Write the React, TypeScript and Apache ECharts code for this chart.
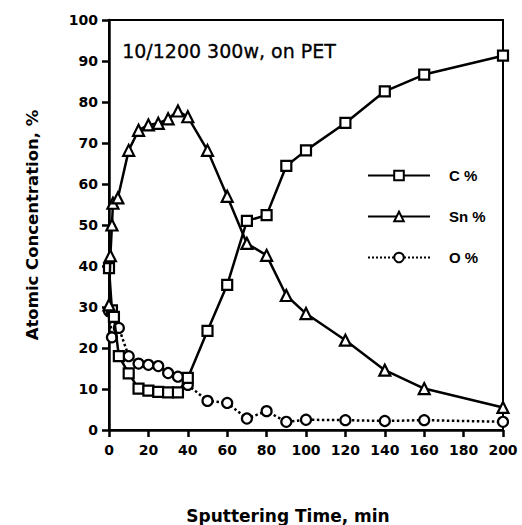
import React, { useEffect, useRef } from "react";
import * as echarts from "echarts";

const cTimes = [0, 1.5, 2.5, 5, 10, 15, 20, 25, 30, 35, 40, 50, 60, 70, 80, 90, 100, 120, 140, 160, 200];
const cValues = [39.5, 29.2, 27.6, 18, 13.8, 10.1, 9.6, 9.3, 9.2, 9.2, 12.7, 24.2, 35.4, 51, 52.4, 64.4, 68.2, 74.9, 82.6, 86.7, 91.3];

const snTimes = [0, 0.7, 1.5, 2, 4.5, 10, 15, 20, 25, 30, 35, 40, 50, 60, 70, 80, 90, 100, 120, 140, 160, 200];
const snValues = [30.5, 42.5, 50, 55.3, 56.6, 68.2, 73.1, 74.4, 74.8, 75.9, 77.8, 76.4, 68.2, 57, 45.5, 42.6, 32.8, 28.4, 21.9, 14.6, 10.1, 5.5];

const oTimes = [0, 1.5, 5, 10, 15, 20, 25, 30, 35, 40, 50, 60, 70, 80, 90, 100, 120, 140, 160, 200];
const oValues = [29, 22.6, 24.9, 18, 16.2, 15.9, 15.6, 13.9, 13, 11, 7.1, 6.6, 2.8, 4.6, 2.0, 2.5, 2.4, 2.2, 2.4, 2.0];

const xTicks = { min: 0, max: 200, interval: 20 };
const yTicks = { min: 0, max: 100, interval: 10 };

const seriesNames = ["C %", "Sn %", "O %"];
const titleText = "10/1200 300w, on PET";
const xName = "Sputtering Time, min";
const yName = "Atomic Concentration, %";

const pairs = (xs: number[], ys: number[]) => xs.map((x, i) => [x, ys[i]]);

export default function App() {
  const ref = useRef<HTMLDivElement>(null);
  useEffect(() => {
    if (!ref.current) return;
    const chart = echarts.init(ref.current, null, { renderer: "svg" });
    const tickFont = { fontFamily: "DejaVu Sans", fontWeight: "bold" as const, fontSize: 14, color: "#000" };
    const markerStyle = { color: "#fff", borderColor: "#000", borderWidth: 2.2 };
    chart.setOption({
      animation: false,
      backgroundColor: "#fff",
      grid: {
        left: 109,
        right: 19,
        top: 20,
        bottom: 95,
        containLabel: false,
        outerBoundsMode: "none",
        show: true,
        borderColor: "#000",
        borderWidth: 2,
      },
      graphic: [
        {
          type: "text",
          left: 122,
          top: 41,
          style: {
            text: titleText,
            font: "19px 'DejaVu Sans'",
            fill: "#000",
            stroke: "#000",
            lineWidth: 0.3,
          },
        },
      ],
      legend: {
        orient: "vertical",
        left: 362,
        top: 163,
        itemWidth: 62,
        itemHeight: 12,
        itemGap: 26,
        data: seriesNames,
        textStyle: {
          fontFamily: "Liberation Sans",
          fontWeight: "bold",
          fontSize: 15,
          color: "#000",
          padding: [0, 0, 0, 14],
        },
      },
      xAxis: {
        type: "value",
        min: xTicks.min,
        max: xTicks.max,
        interval: xTicks.interval,
        name: xName,
        nameLocation: "middle",
        nameGap: 77,
        nameTextStyle: {
          fontFamily: "DejaVu Sans",
          fontWeight: "bold",
          fontSize: 17,
          color: "#000",
          padding: [0, 36, 0, 0],
        },
        axisLine: { show: true, lineStyle: { color: "#000", width: 2.5 } },
        axisTick: { show: true, inside: false, length: 7, lineStyle: { color: "#000", width: 2.5 } },
        axisLabel: { ...tickFont, margin: 13 },
        splitLine: { show: false },
      },
      yAxis: {
        type: "value",
        min: yTicks.min,
        max: yTicks.max,
        interval: yTicks.interval,
        name: yName,
        nameLocation: "middle",
        nameGap: 68,
        nameTextStyle: {
          fontFamily: "DejaVu Sans",
          fontWeight: "bold",
          fontSize: 16.5,
          color: "#000",
        },
        axisLine: { show: true, lineStyle: { color: "#000", width: 2.5 } },
        axisTick: { show: true, inside: false, length: 7, lineStyle: { color: "#000", width: 2.5 } },
        axisLabel: { ...tickFont, margin: 11 },
        splitLine: { show: false },
      },
      series: [
        {
          name: seriesNames[0],
          type: "line",
          data: pairs(cTimes, cValues),
          symbol: "rect",
          symbolSize: 10,
          lineStyle: { color: "#000", width: 2.5 },
          itemStyle: markerStyle,
          z: 3,
        },
        {
          name: seriesNames[1],
          type: "line",
          data: pairs(snTimes, snValues),
          symbol: "triangle",
          symbolSize: 11,
          lineStyle: { color: "#000", width: 2.5 },
          itemStyle: markerStyle,
          z: 4,
        },
        {
          name: seriesNames[2],
          type: "line",
          data: pairs(oTimes, oValues),
          symbol: "circle",
          symbolSize: 10,
          lineStyle: { color: "#000", width: 2.5, type: "dotted" },
          itemStyle: markerStyle,
          z: 2,
        },
      ],
    });
    return () => chart.dispose();
  }, []);
  return (
    <div
      ref={ref}
      style={{ position: "absolute", left: 0, top: 0, width: 522, height: 525 }}
    />
  );
}
